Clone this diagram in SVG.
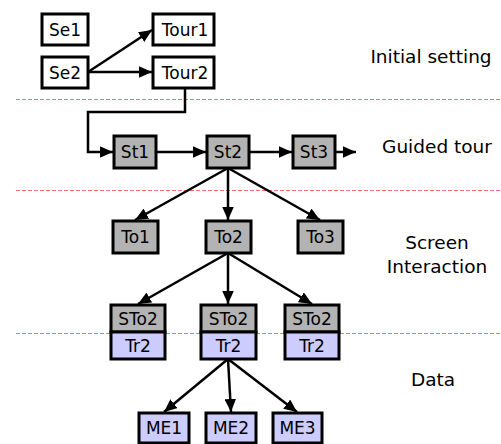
<svg xmlns="http://www.w3.org/2000/svg" width="501" height="444" viewBox="0 0 501 444">
<style>
.sep{stroke:#ff6f6f;stroke-width:1;stroke-dasharray:4,2;fill:none}
.box{stroke:#000;stroke-width:3}
.w{fill:#fff}.g{fill:#b3b3b3}.b{fill:#ccccff}
.t{font-family:"DejaVu Sans",sans-serif;font-size:17px;text-anchor:middle;dominant-baseline:central;fill:#000}
.lbl{font-family:"DejaVu Sans",sans-serif;font-size:18.5px;text-anchor:middle;fill:#000}
.c{stroke:#000;stroke-width:2.5;fill:none;marker-end:url(#a)}
</style>
<defs>
<marker id="a" viewBox="0 0 10 10" refX="10" refY="5" markerWidth="5.2" markerHeight="4.6" markerUnits="strokeWidth" orient="auto" preserveAspectRatio="none">
<path d="M0,0 L10,5 L0,10 z" fill="#000"/>
</marker>
</defs>
<rect width="501" height="444" fill="#fff"/>
<g id="separators">
<line class="sep" x1="16" y1="99.5" x2="501" y2="99.5"/>
<line class="sep" x1="16" y1="190.5" x2="501" y2="190.5"/>
<line class="sep" x1="16" y1="333.5" x2="501" y2="333.5"/>
</g>
<g id="labels">
<text class="lbl" x="431" y="63">Initial setting</text>
<text class="lbl" x="437" y="153">Guided tour</text>
<text class="lbl" x="437" y="249">Screen</text>
<text class="lbl" x="437" y="273">Interaction</text>
<text class="lbl" x="433" y="386">Data</text>
</g>
<g id="connectors">
<path class="c" d="M88,72 L152,30"/>
<path class="c" d="M88,72 L152,72"/>
<path class="c" d="M185,88 L185,112 L88,112 L88,152 L113,152"/>
<path class="c" d="M156,152 L206,152"/>
<path class="c" d="M249,152 L292,152"/>
<path class="c" d="M335,152 L356,152"/>
<path class="c" d="M228,168 L135,220"/>
<path class="c" d="M228,168 L228,220"/>
<path class="c" d="M228,168 L320,220"/>
<path class="c" d="M228,253 L138,304"/>
<path class="c" d="M228,253 L228,304"/>
<path class="c" d="M228,253 L312,304"/>
<path class="c" d="M228,359 L164,412"/>
<path class="c" d="M228,359 L231,412"/>
<path class="c" d="M228,359 L297,412"/>
</g>
<g id="Se1"><rect class="box w" x="42" y="14" width="46" height="31"/><text class="t" x="65" y="29.5">Se1</text></g>
<g id="Se2"><rect class="box w" x="42" y="57" width="46" height="31"/><text class="t" x="65" y="72.5">Se2</text></g>
<g id="Tour1"><rect class="box w" x="153" y="14" width="61" height="31"/><text class="t" x="185" y="29.5">Tour1</text></g>
<g id="Tour2"><rect class="box w" x="153" y="57" width="61" height="31"/><text class="t" x="185" y="72.5">Tour2</text></g>
<g id="St1"><rect class="box g" x="114" y="136" width="42" height="32"/><text class="t" x="135" y="152">St1</text></g>
<g id="St2"><rect class="box g" x="207" y="136" width="42" height="32"/><text class="t" x="228" y="152">St2</text></g>
<g id="St3"><rect class="box g" x="293" y="136" width="42" height="32"/><text class="t" x="314" y="152">St3</text></g>
<g id="To1"><rect class="box g" x="113" y="221" width="45" height="32"/><text class="t" x="135.5" y="237">To1</text></g>
<g id="To2"><rect class="box g" x="206" y="221" width="45" height="32"/><text class="t" x="228.5" y="237">To2</text></g>
<g id="To3"><rect class="box g" x="298" y="221" width="45" height="32"/><text class="t" x="320.5" y="237">To3</text></g>
<g id="STo2-1"><rect class="box g" x="111" y="305" width="54" height="27"/><rect class="box b" x="111" y="332" width="54" height="27"/><text class="t" x="138" y="318.5">STo2</text><text class="t" x="138" y="345.5">Tr2</text></g>
<g id="STo2-2"><rect class="box g" x="201" y="305" width="55" height="27"/><rect class="box b" x="201" y="332" width="55" height="27"/><text class="t" x="228.5" y="318.5">STo2</text><text class="t" x="228.5" y="345.5">Tr2</text></g>
<g id="STo2-3"><rect class="box g" x="285" y="305" width="54" height="27"/><rect class="box b" x="285" y="332" width="54" height="27"/><text class="t" x="312" y="318.5">STo2</text><text class="t" x="312" y="345.5">Tr2</text></g>
<g id="ME1"><rect class="box b" x="139" y="413" width="50" height="30"/><text class="t" x="164" y="428">ME1</text></g>
<g id="ME2"><rect class="box b" x="206" y="413" width="50" height="30"/><text class="t" x="231" y="428">ME2</text></g>
<g id="ME3"><rect class="box b" x="273" y="413" width="49" height="30"/><text class="t" x="297.5" y="428">ME3</text></g>
</svg>
